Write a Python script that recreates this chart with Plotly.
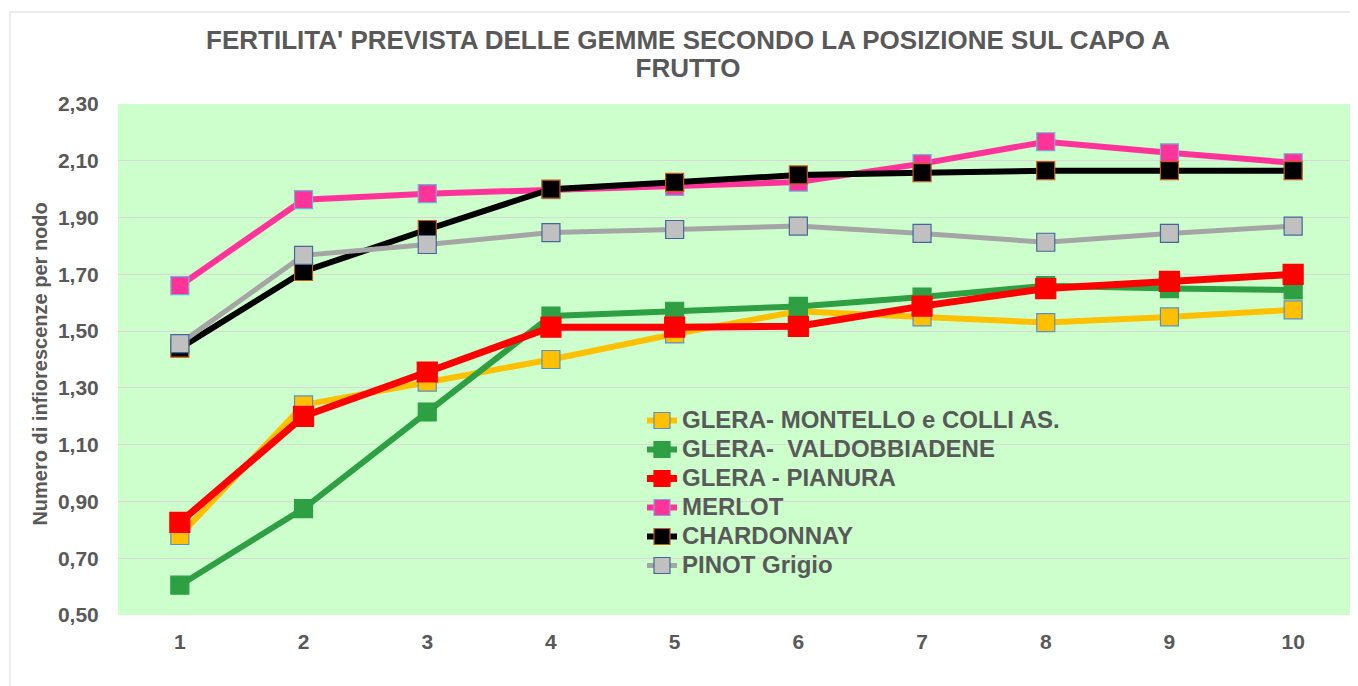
import plotly.graph_objects as go

positions = [1, 2, 3, 4, 5, 6, 7, 8, 9, 10]
tick_labels = ["1", "2", "3", "4", "5", "6", "7", "8", "9", "10"]

glera_montello = [0.78, 1.24, 1.32, 1.40, 1.49, 1.57, 1.55, 1.53, 1.55, 1.575]
glera_valdobbiadene = [0.605, 0.875, 1.215, 1.553, 1.57, 1.587, 1.62, 1.66, 1.65, 1.645]
glera_pianura = [0.826, 1.20, 1.356, 1.514, 1.514, 1.517, 1.588, 1.65, 1.675, 1.70]
merlot = [1.66, 1.963, 1.984, 1.998, 2.01, 2.025, 2.09, 2.167, 2.128, 2.093]
chardonnay = [1.44, 1.71, 1.858, 2.0, 2.024, 2.05, 2.058, 2.065, 2.065, 2.065]
pinot_grigio = [1.456, 1.767, 1.805, 1.847, 1.858, 1.87, 1.844, 1.813, 1.844, 1.87]

series_names = ["GLERA- MONTELLO e COLLI AS.", "GLERA-  VALDOBBIADENE", "GLERA - PIANURA",
                "MERLOT", "CHARDONNAY", "PINOT Grigio"]
title_lines = ["FERTILITA' PREVISTA DELLE GEMME SECONDO LA POSIZIONE SUL CAPO A", "FRUTTO"]

TXT = "#595959"
FONT = "Liberation Sans, Arial, sans-serif"

styles = [
    dict(line="#FFC000", fill="#FFC000", border="#5B8FC9", lw=6, ms=18),
    dict(line="#2EA043", fill="#2EA043", border="#2EA043", lw=6, ms=18),
    dict(line="#FF0000", fill="#FF0000", border="#FF0000", lw=7, ms=20),
    dict(line="#FF3399", fill="#FF3399", border="#6FB0D8", lw=6, ms=18),
    dict(line="#000000", fill="#000000", border="#C55A11", lw=6, ms=18),
    dict(line="#A5A5A5", fill="#C0C0C0", border="#44679A", lw=5, ms=18),
]
data = [glera_montello, glera_valdobbiadene, glera_pianura, merlot, chardonnay, pinot_grigio]

fig = go.Figure()
for name, vals, st in zip(series_names, data, styles):
    fig.add_trace(go.Scatter(
        x=positions, y=vals, name='<span style="font-size:24px">' + name + '</span>',
        mode="lines+markers",
        line=dict(color=st["line"], width=st["lw"]),
        marker=dict(symbol="square", size=st["ms"], color=st["fill"],
                    line=dict(color=st["border"], width=1.2)),
    ))

W, H = 1350, 678  # page has an 8px body margin
L, T, R, B = 110, 96, 3, 71
PW, PH = W - L - R, H - T - B

title_text = "<br>".join('<span style="font-size:26px">' + s + '</span>' for s in title_lines)

fig.update_layout(
    width=W, height=H,
    margin=dict(l=L, r=R, t=T, b=B),
    paper_bgcolor="white", plot_bgcolor="#CCFFCC",
    separators=",.",
    font=dict(family=FONT, color=TXT, size=17),
    title=dict(text=title_text,
               font=dict(family=FONT, size=21.5, color=TXT, weight="bold"),
               x=680 / W, xanchor="center", xref="container",
               y=1 - 41 / H, yanchor="top", yref="container"),
    xaxis=dict(range=[0.5, 10.5], tickvals=positions, ticktext=tick_labels,
               showgrid=False, zeroline=False, showline=False,
               ticks="outside", ticklen=8, tickcolor="rgba(0,0,0,0)",
               tickfont=dict(size=21, color=TXT, weight="bold")),
    yaxis=dict(range=[0.5, 2.3], dtick=0.2, tick0=0.5, tickformat=".2f",
               showgrid=True, gridcolor="#D9D9D9", gridwidth=1, zeroline=False,
               showline=False, ticks="outside", ticklen=14, tickcolor="rgba(0,0,0,0)",
               tickfont=dict(size=21, color=TXT, weight="bold")),
    legend=dict(x=(642 - 118) / PW, y=(615 - 401) / PH, xanchor="left", yanchor="top",
                bgcolor="rgba(0,0,0,0)", font=dict(family=FONT, size=20, color=TXT, weight="bold"),
                tracegroupgap=0, itemwidth=30),
    showlegend=True,
)

fig.add_annotation(text="Numero di infiorescenze per nodo", xref="paper", yref="paper",
                   x=(40 - 118) / PW, y=0.49, xanchor="center", yanchor="middle",
                   textangle=-90, showarrow=False,
                   font=dict(family=FONT, size=20, color=TXT, weight="bold"))

fig.add_shape(type="rect", xref="paper", yref="paper",
              x0=(2 - L) / PW, x1=1.05, y0=-0.3, y1=(PH + T - 4) / PH,
              line=dict(color="#D9D9D9", width=1), fillcolor="rgba(0,0,0,0)", layer="below")

fig.write_html("out.html")
